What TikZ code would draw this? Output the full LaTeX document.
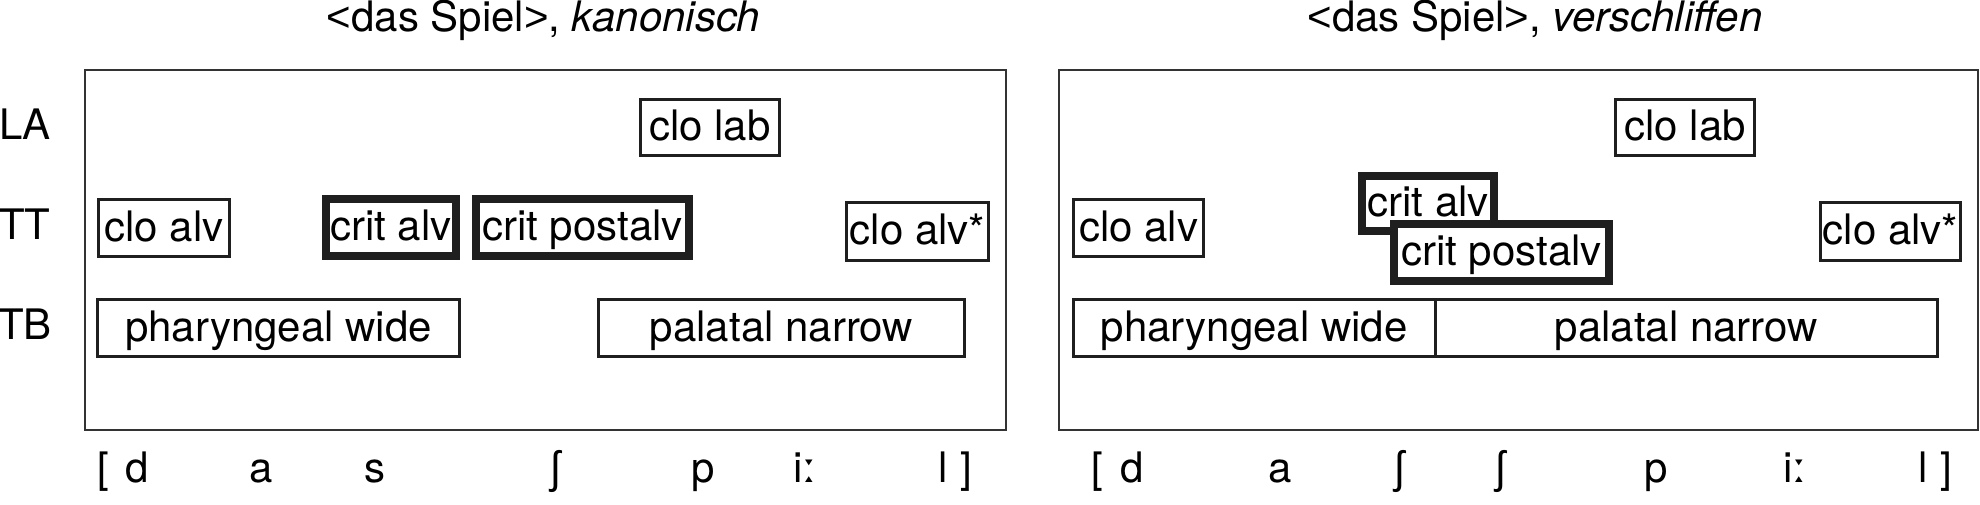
\documentclass[tikz,border=0pt]{standalone}
\usepackage{fontspec}
\setmainfont{TeX Gyre Heros}
\newfontfamily\ipafont{Noto Sans}
\newfontfamily\angfont{Liberation Sans}
\begin{document}
\begin{tikzpicture}[x=0.5pt,y=-0.5pt,
  txt/.style={font=\fontsize{21}{24}\selectfont, inner sep=0pt, anchor=base},
  box/.style={draw=black!88, line width=1.5pt, fill=white, inner sep=0pt,
    text height=13pt, text depth=0pt, font=\fontsize{21}{24}\selectfont},
  thickbox/.style={box, line width=4pt},
  frame/.style={draw=black!80, line width=1pt}]
\useasboundingbox (0,0) rectangle (1980,504);

% titles
\node[txt] (titleL) at (543.5,31) {{\angfont <}das Spiel{\angfont >}, \textit{kanonisch}};
\node[txt] (titleR) at (1535,31) {{\angfont <}das Spiel{\angfont >}, \textit{verschliffen}};

% row labels
\node[txt] (LA) at (25,139) {LA};
\node[txt] (TT) at (25,239) {TT};
\node[txt] (TB) at (25,339) {TB};

% frames
\draw[frame] (85,70) rectangle (1006,430);
\draw[frame] (1059,70) rectangle (1978,430);

% left panel
\node[box, minimum width=69.5pt, minimum height=28pt] (clolabL) at (710,127.5) {clo lab};
\node[box, minimum width=65.5pt, minimum height=28.5pt] (cloalvL) at (164,228) {clo alv};
\node[thickbox, minimum width=65pt, minimum height=28.5pt] (critalvL) at (391,227.5) {crit alv};
\node[thickbox, minimum width=106.5pt, minimum height=28.5pt] (critpostalvL) at (582.5,227.5) {crit postalv};
\node[box, minimum width=71pt, minimum height=29pt] (cloalvstarL) at (917.5,231.5) {clo alv*};
\node[box, minimum width=181pt, minimum height=28.5pt] (pharyngL) at (278.5,328) {pharyngeal wide};
\node[box, minimum width=183pt, minimum height=28.5pt] (palatalL) at (781.5,328) {palatal narrow};

% right panel
\node[box, minimum width=69.5pt, minimum height=28pt] (clolabR) at (1685,127.5) {clo lab};
\node[box, minimum width=65pt, minimum height=28.5pt] (cloalvR) at (1138.5,228) {clo alv};
\node[thickbox, minimum width=66pt, minimum height=27.5pt] (critalvR) at (1428,203.5) {crit alv};
\node[thickbox, minimum width=107.5pt, minimum height=28.5pt] (critpostalvR) at (1501.5,252.5) {crit postalv};
\node[box, minimum width=70pt, minimum height=29pt] (cloalvstarR) at (1890.5,231.5) {clo alv*};
\node[box, minimum width=180.75pt, minimum height=28.5pt] (pharyngR) at (1254.25,328) {pharyngeal wide};
\node[box, minimum width=251.25pt, minimum height=28.5pt] (palatalR) at (1686.25,328) {palatal narrow};

% transcription left
\node[txt] (lbL) at (103,482) {[};
\node[txt] (dL) at (137,482) {d};
\node[txt] (aL) at (261,482) {a};
\node[txt] (sL) at (375,482) {s};
\node[txt] (shL) at (556,482) {\ipafont ʃ};
\node[txt] (pL) at (703,482) {p};
\node[txt] (iL) at (805,482) {i{\ipafont ː}};
\node[txt] (lL) at (943,482) {l};
\node[txt] (rbL) at (966,482) {]};

% transcription right
\node[txt] (lbR) at (1097,482) {[};
\node[txt] (dR) at (1132,482) {d};
\node[txt] (aR) at (1280,482) {a};
\node[txt] (sh1R) at (1400,482) {\ipafont ʃ};
\node[txt] (sh2R) at (1501,482) {\ipafont ʃ};
\node[txt] (pR) at (1656,482) {p};
\node[txt] (iR) at (1795,482) {i{\ipafont ː}};
\node[txt] (lR) at (1923,482) {l};
\node[txt] (rbR) at (1946,482) {]};
\end{tikzpicture}
\end{document}
